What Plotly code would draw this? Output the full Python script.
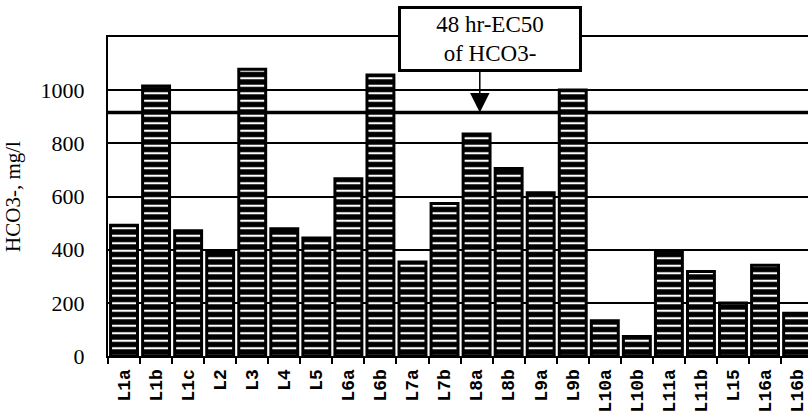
import plotly.graph_objects as go

categories = ["L1a", "L1b", "L1c", "L2", "L3", "L4", "L5", "L6a", "L6b", "L7a", "L7b",
              "L8a", "L8b", "L9a", "L9b", "L10a", "L10b", "L11a", "L11b", "L15", "L16a", "L16b"]
hco3 = [492, 1016, 471, 392, 1079, 479, 444, 667, 1057, 354, 574,
        835, 705, 614, 1001, 133, 73, 394, 318, 199, 341, 161]
ec50 = 916
y_ticks = [0, 200, 400, 600, 800, 1000]

fig = go.Figure()
fig.add_trace(go.Bar(
    x=categories, y=hco3, width=0.84,
    marker=dict(color="black", line=dict(color="black", width=3),
                pattern=dict(shape="-", fgcolor="white", bgcolor="black",
                             size=7.5, solidity=0.28, fillmode="replace")),
))

fig.add_shape(type="line", xref="paper", x0=0, x1=1, yref="y", y0=ec50, y1=ec50,
              line=dict(color="black", width=3.5), layer="below")

# arrow pointing at the EC50 line
fig.add_annotation(x=11.1, y=ec50, xref="x", yref="y", text="", showarrow=True,
                   ax=0, ay=-44, axref="pixel", ayref="pixel",
                   arrowhead=2, arrowsize=2.6, arrowwidth=1.5, arrowcolor="black")
# label box
fig.add_annotation(x=11.43, y=0.995, xref="x", yref="paper",
                   xanchor="center", yanchor="middle",
                   text="48 hr-EC50<br>of HCO3-", showarrow=False,
                   font=dict(family="Liberation Serif", size=23, color="black"),
                   bgcolor="white", bordercolor="black", borderwidth=3,
                   width=174, height=56, borderpad=2, align="center")

fig.update_layout(
    width=808, height=413,
    margin=dict(l=108, r=0, t=37, b=57),
    plot_bgcolor="white", paper_bgcolor="white",
    showlegend=False, bargap=0.16,
    font=dict(family="Liberation Serif", color="black"),
)
fig.update_xaxes(
    range=[-0.5, 21.34], showline=True, linecolor="black", linewidth=2, mirror=True,
    ticks="outside", tickson="boundaries", ticklen=6, tickwidth=2, tickcolor="black",
    tickangle=-90, showgrid=False, automargin=False, ticklabelstandoff=4,
    tickfont=dict(family="Liberation Mono", size=18, weight="bold", color="black"),
)
fig.update_yaxes(
    range=[0, 1200], tickvals=y_ticks, showline=True, linecolor="black", linewidth=2,
    showgrid=True, gridcolor="black", gridwidth=2, zeroline=False,
    ticks="", ticklabelstandoff=17, automargin=False,
    tickfont=dict(family="Liberation Serif", size=22, color="black"),
    title=dict(text="HCO3-, mg/l", standoff=14,
               font=dict(family="Liberation Serif", size=21, color="black")),
)

fig.write_html("out.html", config={"displayModeBar": False},
               post_script="document.body.style.margin='0';document.body.style.overflow='hidden';")
